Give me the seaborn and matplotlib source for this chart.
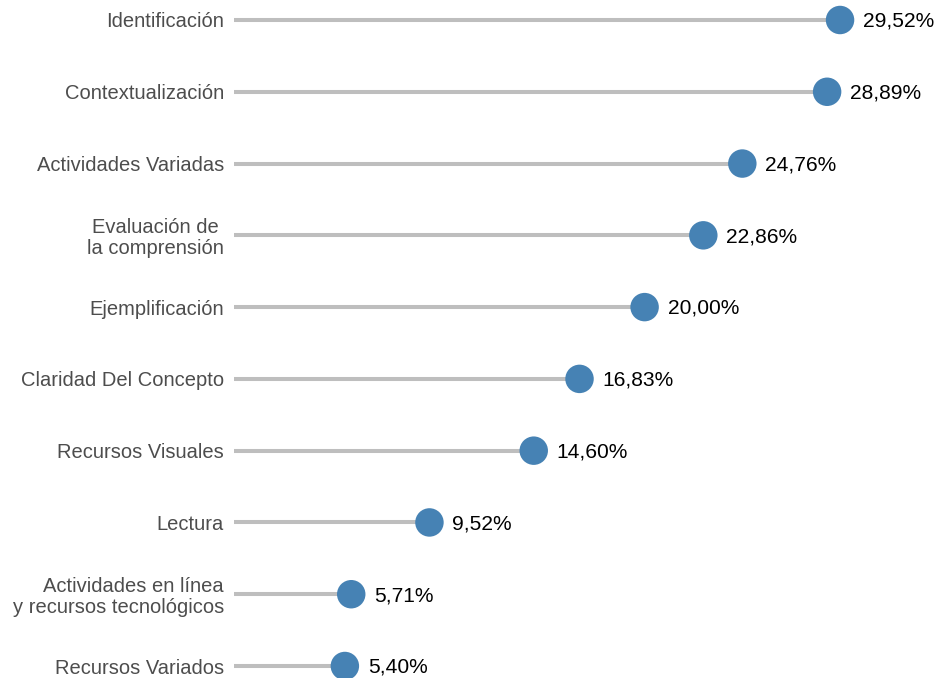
import matplotlib
matplotlib.use("Agg")
import matplotlib.pyplot as plt
import seaborn as sns
import pandas as pd

categories = [
    "Identificación",
    "Contextualización",
    "Actividades Variadas",
    "Evaluación de \nla comprensión",
    "Ejemplificación",
    "Claridad Del Concepto",
    "Recursos Visuales",
    "Lectura",
    "Actividades en línea\ny recursos tecnológicos",
    "Recursos Variados",
]
values = [29.52, 28.89, 24.76, 22.86, 20.00, 16.83, 14.60, 9.52, 5.71, 5.40]
value_labels = ["29,52%", "28,89%", "24,76%", "22,86%", "20,00%",
                "16,83%", "14,60%", "9,52%", "5,71%", "5,40%"]

df = pd.DataFrame({"cat": categories, "val": values, "lab": value_labels})
df["pos"] = range(len(df))

sns.set_theme(style="white")
plt.rcParams["font.family"] = ["Liberation Sans", "DejaVu Sans"]

fig = plt.figure(figsize=(9.4, 6.78), dpi=100)
ax = fig.add_axes([234 / 940, 0, 706 / 940, 1])

ax.hlines(df["pos"], 0, df["val"], color="#bebebe", linewidth=2.9, zorder=1)
sns.scatterplot(data=df, x="val", y="pos", s=420, color="#4682B4",
                edgecolor="none", linewidth=0, ax=ax, zorder=2, legend=False,
                clip_on=False)

for _, r in df.iterrows():
    ax.annotate(r["lab"], (r["val"], r["pos"]), xytext=(16.5, -1),
                textcoords="offset points", ha="left", va="center",
                fontsize=15.1, color="black")

ax.set_xlim(0, 706 / 20.53)
ax.set_ylim(9 + 12 / 71.78, -20 / 71.78)
ax.set_yticks(df["pos"])
ax.set_yticklabels(df["cat"], fontsize=14.5, color="#4d4d4d", linespacing=1.12)
ax.tick_params(axis="y", length=0, pad=7.2)
ax.set_xticks([])
ax.set_xlabel("")
ax.set_ylabel("")
for s in ax.spines.values():
    s.set_visible(False)

fig.savefig("out.png", dpi=100)
